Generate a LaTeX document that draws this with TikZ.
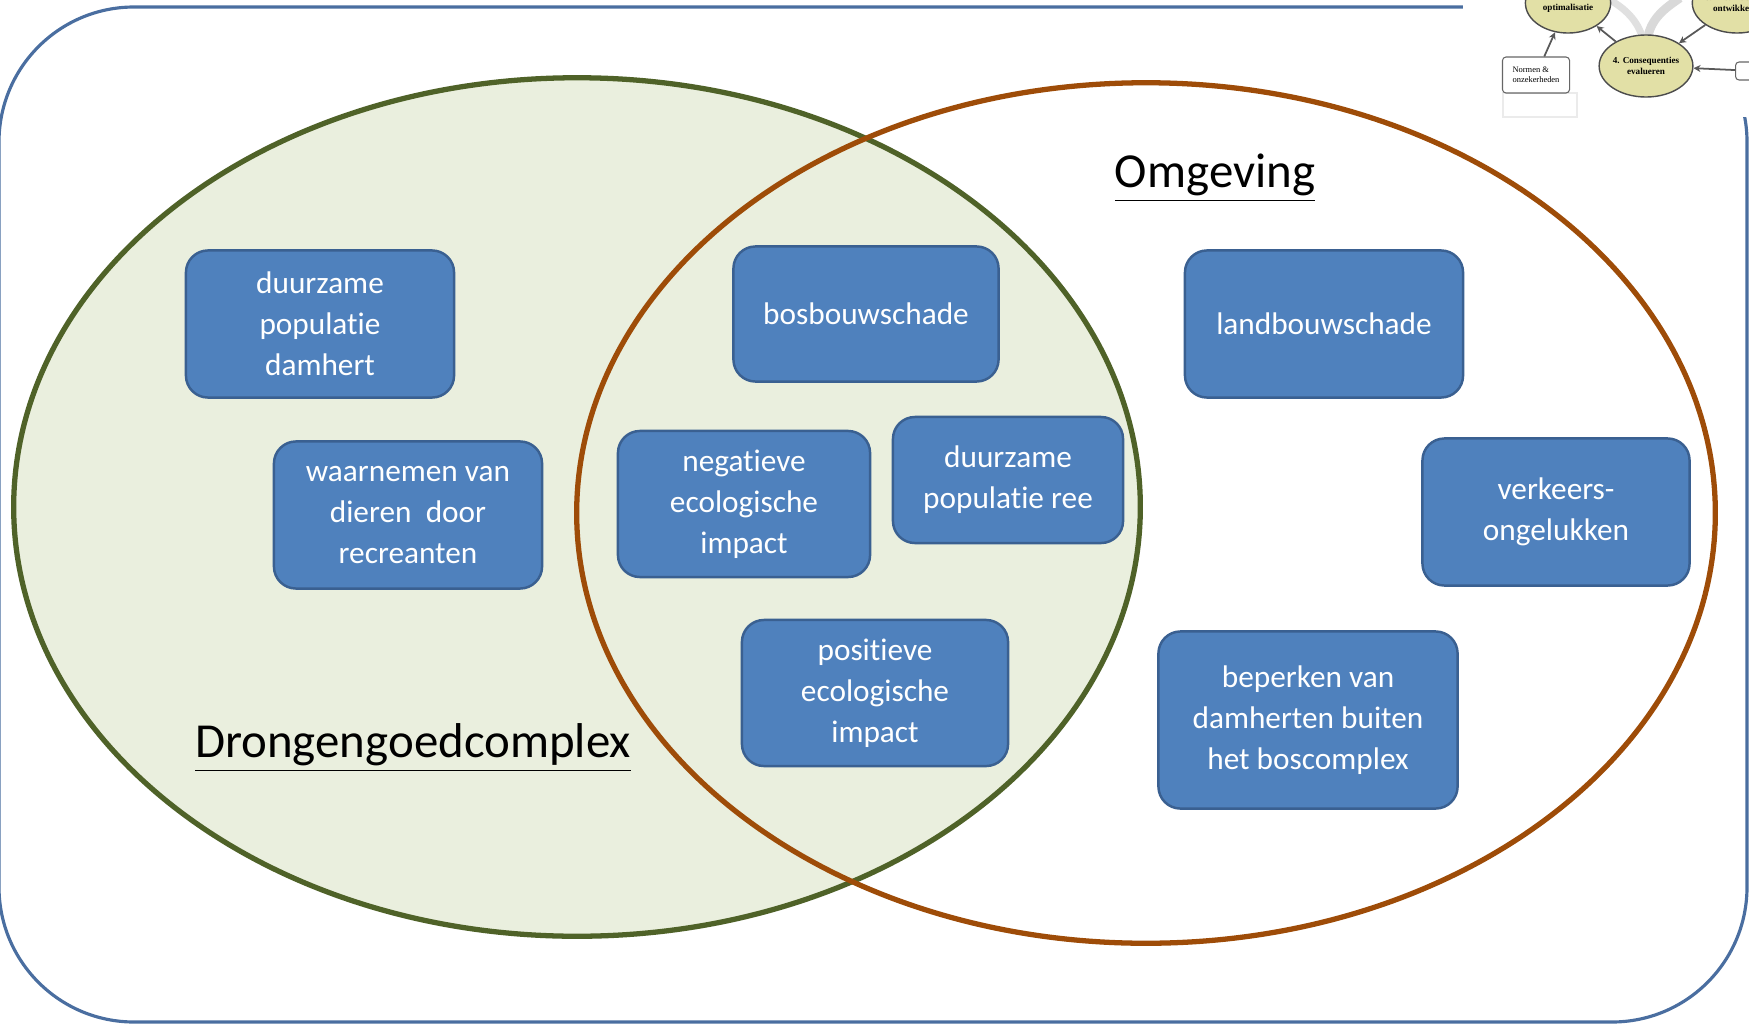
\documentclass[tikz,border=0pt]{standalone}
\usepackage{fontspec}
\setmainfont{Carlito}[Ligatures=NoCommon]
\newfontfamily\thumbfont{Liberation Serif}
\usetikzlibrary{arrows.meta}
\usetikzlibrary{shapes.geometric}

\definecolor{frameblue}{RGB}{74,110,160}
\definecolor{setgreen}{RGB}{79,98,40}
\definecolor{setfill}{RGB}{234,239,222}
\definecolor{setorange}{RGB}{158,76,8}
\definecolor{boxfill}{RGB}{79,129,189}
\definecolor{boxline}{RGB}{58,96,145}
\definecolor{sdmfill}{RGB}{226,224,166}

\begin{document}
\begin{tikzpicture}[x=0.01cm,y=-0.01cm,
		box/.style={draw=boxline,fill=boxfill,line width=0.7pt,rounded corners=0.22cm,text=white,align=center,inner sep=0pt,font=\fontsize{8.9}{11.7}\selectfont},
		setname/.style={anchor=base,inner sep=0pt,font=\fontsize{13.9}{16}\selectfont},
		sdm/.style={ellipse,draw=black!70,fill=sdmfill,line width=0.4pt,align=center,inner sep=0pt,font=\thumbfont\bfseries\fontsize{2.6}{3.1}\selectfont},
		sdmbox/.style={draw=black!60,fill=white,rounded corners=1pt,line width=0.3pt,align=left,inner sep=0pt,font=\thumbfont\fontsize{2.4}{2.9}\selectfont},
		sdmarrow/.style={draw=black!65,line width=0.5pt,-{Stealth[length=2pt,width=2pt]}}]
		\useasboundingbox (0,0) rectangle (1749,1024);
		% frame
		\draw[frameblue,line width=0.9pt,rounded corners=1.35cm] (-1,7) rectangle (1747,1022);
		% sets
		\draw[setgreen,fill=setfill,line width=1.5pt] (577,507) ellipse [x radius=5.63cm,y radius=4.29cm];
		\draw[setorange,line width=1.5pt] (1146,513) ellipse [x radius=5.69cm,y radius=4.30cm];
		\node[setname] (drongen) at (413,757) {\underline{Drongengoedcomplex}};
		\node[setname] (omgeving) at (1215,187) {\underline{Omgeving}};
		% boxes
		\node[box,minimum width=2.68cm,minimum height=1.47cm] (dhpop) at (320,324) {duurzame\\populatie\\damhert};
		\node[box,minimum width=2.68cm,minimum height=1.47cm] (recreant) at (408,515) {waarnemen van\\dieren\ \ door\\recreanten};
		\node[box,minimum width=2.65cm,minimum height=1.35cm] (bosbouw) at (866,314) {bosbouwschade};
		\node[box,minimum width=2.52cm,minimum height=1.46cm] (negimpact) at (744,504) {negatieve\\ecologische\\impact};
		\node[box,minimum width=2.30cm,minimum height=1.26cm] (reepop) at (1008,480) {duurzame\\populatie ree};
		\node[box,minimum width=2.66cm,minimum height=1.46cm] (posimpact) at (875,693) {positieve\\ecologische\\impact};
		\node[box,minimum width=2.78cm,minimum height=1.47cm] (landbouw) at (1324,324) {landbouwschade};
		\node[box,minimum width=2.67cm,minimum height=1.47cm] (verkeer) at (1556,512) {verkeers-\\ongelukken};
		\node[box,minimum width=2.99cm,minimum height=1.77cm] (beperken) at (1308,720) {beperken van\\damherten buiten\\het boscomplex};
		% thumbnail top right
		\fill[white] (1463,0) rectangle (1749,117);
		\begin{scope}
			\clip (1463,0) rectangle (1749,117);
			\draw[black!8] (1503,93) rectangle (1577,117);
			\draw[black!15,line width=2.5pt] (1648,36) .. controls (1652,18) and (1665,8) .. (1680,-2);
			\draw[black!12,line width=2pt] (1642,36) .. controls (1636,18) and (1622,6) .. (1606,-2);
			\node[sdm,minimum width=0.80cm,minimum height=0.60cm] (sdmfive) at (1568,3) {5. Trade-offs \&\\optimalisatie};
			\node[sdm,minimum width=0.81cm,minimum height=0.62cm] (sdmfour) at (1646,66) {4. Consequenties\\evalueren};
			\node[sdm,minimum width=0.86cm,minimum height=0.60cm] (sdmthree) at (1737,3) {3. Alternatieven\\ontwikkelen};
			\node[sdmbox,minimum width=0.67cm,minimum height=0.36cm] (sdmnorm) at (1536,75) {Normen \&\\onzekerheden};
			\node[sdmbox,minimum width=0.40cm,minimum height=0.18cm,anchor=west] (sdmright) at (1735,71) {Sc};
			\draw[sdmarrow] (sdmnorm) -- (sdmfive);
			\draw[sdmarrow] (sdmfour) -- (sdmfive);
			\draw[sdmarrow] (sdmthree) -- (sdmfour);
			\draw[sdmarrow] (sdmright) -- (sdmfour);
		\end{scope}
\end{tikzpicture}
\end{document}
